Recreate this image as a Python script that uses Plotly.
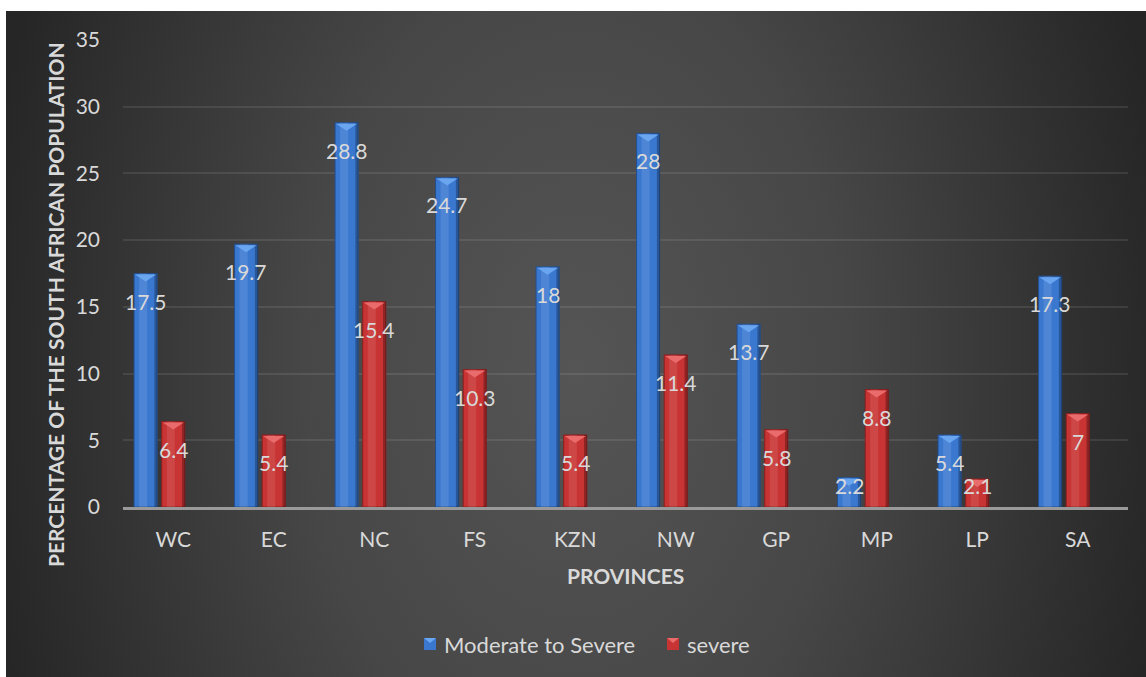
import base64
import plotly.graph_objects as go

# Disability prevalence by province (% of population)
provinces = ["WC", "EC", "NC", "FS", "KZN", "NW", "GP", "MP", "LP", "SA"]
moderate_to_severe = [17.5, 19.7, 28.8, 24.7, 18, 28, 13.7, 2.2, 5.4, 17.3]
severe = [6.4, 5.4, 15.4, 10.3, 5.4, 11.4, 5.8, 8.8, 2.1, 7]
series_names = ["Moderate to Severe", "severe"]
y_ticks = [0, 5, 10, 15, 20, 25, 30, 35]

W, H = 1146, 677
FONT = "Lato"
TXT = "#d9d9d9"

# plot area in pixels
PL, PR, PT, PB = 123, 1128, 40, 507
px_per_unit = (PB - PT) / 35.0

BLUE, BLUE_TOP, BLUE_EDGE = "#3a78d0", "#6aa6f0", "#234f8f"
RED, RED_TOP, RED_EDGE = "#c83333", "#ea6b6b", "#8a1f1f"
BAR_W = 0.23
OFF_BLUE, OFF_RED = -0.275, 0.0

# dark radial backdrop
svg = (
    '<svg xmlns="http://www.w3.org/2000/svg" width="1140" height="666" '
    'viewBox="0 0 1140 666" preserveAspectRatio="none"><defs>'
    '<radialGradient id="g" gradientUnits="userSpaceOnUse" cx="570" cy="360" r="600" '
    'gradientTransform="translate(570 360) scale(1 1.5) translate(-570 -360)">'
    '<stop offset="0" stop-color="#555555"/>'
    '<stop offset="0.45" stop-color="#474747"/>'
    '<stop offset="1" stop-color="#262626"/>'
    '</radialGradient></defs>'
    '<rect width="1140" height="666" fill="url(#g)"/></svg>'
)
bg_src = "data:image/svg+xml;base64," + base64.b64encode(svg.encode()).decode()

idx = list(range(len(provinces)))

fig = go.Figure()
for name, vals, off, col, edge in ((series_names[0], moderate_to_severe, OFF_BLUE, BLUE, BLUE_EDGE),
                                   (series_names[1], severe, OFF_RED, RED, RED_EDGE)):
    xs = [i + off for i in idx]
    fig.add_trace(go.Bar(
        name=name, showlegend=False, x=xs, y=vals, width=BAR_W,
        marker=dict(color=col, line=dict(color=edge, width=1)),
    ))
    # cylinder-style shading: soft highlight left of centre, dark rim on the right
    fig.add_trace(go.Bar(
        showlegend=False, hoverinfo="skip", x=[x - 0.025 for x in xs], y=vals, width=0.08,
        marker=dict(color="rgba(255,255,255,0.10)", line=dict(width=0)),
    ))
    fig.add_trace(go.Bar(
        showlegend=False, hoverinfo="skip", x=[x + BAR_W / 2 - 0.014 for x in xs], y=vals,
        width=0.028, marker=dict(color="rgba(0,0,0,0.28)", line=dict(width=0)),
    ))

annotations = []
shapes = []
half_px = BAR_W * (PR - PL) / len(provinces) / 2
for series, off, top_col in ((moderate_to_severe, OFF_BLUE, BLUE_TOP), (severe, OFF_RED, RED_TOP)):
    for i, v in zip(idx, series):
        bar_px = v * px_per_unit
        drop = min(27.5, bar_px - 22)
        annotations.append(dict(
            x=i + off, y=v, xref="x", yref="y", text=str(v), showarrow=False,
            yshift=-drop, yanchor="middle", xanchor="center",
            font=dict(family=FONT, size=21, color=TXT),
        ))
        # bevelled cap on top of each bar
        shapes.append(dict(
            type="path", xref="x", yref="y", xsizemode="pixel", ysizemode="pixel",
            xanchor=i + off, yanchor=v,
            path=f"M {-half_px + 1},-1 L {half_px - 1},-1 L 0,-8 Z",
            fillcolor=top_col, line=dict(width=0), layer="above",
        ))

# axis titles
annotations.append(dict(
    x=(PL + PR) / 2 / W, y=1 - 575 / H, xref="paper", yref="paper",
    text="<b>PROVINCES</b>", showarrow=False, yanchor="middle",
    font=dict(family=FONT, size=21, color=TXT),
))
annotations.append(dict(
    x=55 / W, y=1 - 305 / H, xref="paper", yref="paper", textangle=-90,
    text="<b>PERCENTAGE OF THE SOUTH AFRICAN POPULATION</b>", showarrow=False,
    xanchor="center", yanchor="middle",
    font=dict(family=FONT, size=21, color=TXT),
))

# legend: swatch + label for each series
legend_y = 1 - 644 / H
for name, col, top_col, sx, tx in ((series_names[0], BLUE, BLUE_TOP, 424, 442),
                                   (series_names[1], RED, RED_TOP, 667, 685)):
    shapes.append(dict(
        type="rect", xref="paper", yref="paper",
        x0=sx / W, x1=(sx + 12) / W, y0=legend_y - 6 / H, y1=legend_y + 6 / H,
        fillcolor=col, line=dict(width=0), layer="above",
    ))
    shapes.append(dict(
        type="path", xref="paper", yref="paper", xsizemode="pixel", ysizemode="pixel",
        xanchor=(sx + 6) / W, yanchor=legend_y + 6 / H,
        path="M -6,0 L 6,0 L 0,-5 Z", fillcolor=top_col, line=dict(width=0), layer="above",
    ))
    annotations.append(dict(
        x=tx / W, y=legend_y, xref="paper", yref="paper", text=name, showarrow=False,
        xanchor="left", yanchor="middle",
        font=dict(family=FONT, size=22, color=TXT),
    ))

fig.update_layout(
    width=W, height=H,
    autosize=False,
    margin=dict(l=0, r=0, t=0, b=0, pad=0, autoexpand=False),
    paper_bgcolor="white",
    plot_bgcolor="rgba(0,0,0,0)",
    barmode="overlay",
    showlegend=False,
    xaxis=dict(
        domain=[PL / W, PR / W], range=[-0.5, len(provinces) - 0.5],
        tickmode="array", tickvals=idx, ticktext=provinces,
        showgrid=False, zeroline=False, automargin=False,
        showline=True, linecolor="#9a9a9a", linewidth=2.5,
        ticks="", ticklabelstandoff=12,
        tickfont=dict(family=FONT, size=21, color=TXT),
    ),
    yaxis=dict(
        domain=[1 - PB / H, 1 - PT / H], range=[0, 35],
        tickmode="array", tickvals=y_ticks, automargin=False,
        showgrid=True, gridcolor="rgba(255,255,255,0.09)", gridwidth=2,
        zeroline=False, showline=False, ticks="", ticklabelstandoff=22,
        tickfont=dict(family=FONT, size=21, color=TXT),
    ),
    annotations=annotations,
    shapes=shapes,
    images=[dict(
        source=bg_src, xref="paper", yref="paper",
        x=6 / W, y=1 - 11 / H, sizex=1140 / W, sizey=666 / H,
        xanchor="left", yanchor="top", sizing="stretch", layer="below",
    )],
)

fig.write_html("out.html")
